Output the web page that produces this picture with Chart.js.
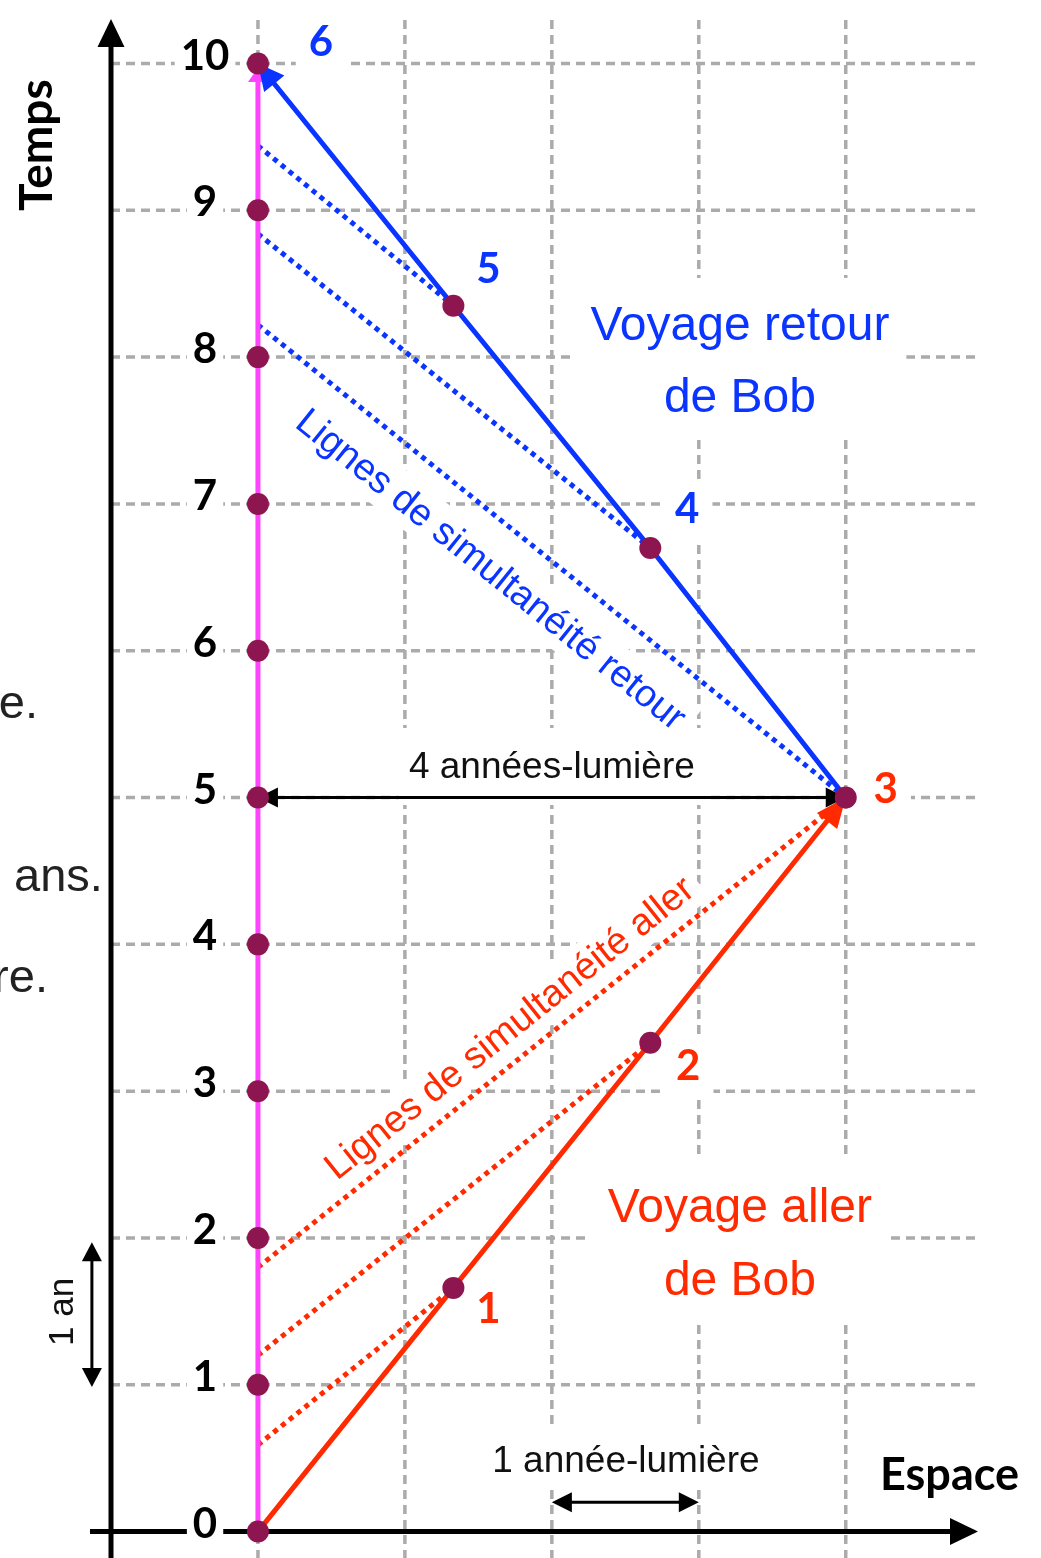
<!DOCTYPE html>
<html><head><meta charset="utf-8">
<script src="https://cdn.jsdelivr.net/npm/chart.js"></script>
<style>html,body{margin:0;padding:0;background:#fff;overflow:hidden}#wrap{width:1041px;height:1558px;position:relative}canvas{display:block}</style>
</head><body><div id="wrap"><canvas id="c" width="1041" height="1558"></canvas></div>
<script>
// ---------------- data ----------------
const spaceTicks = [0, 1, 2, 3, 4];                 // années-lumière
const timeTicks  = [0, 1, 2, 3, 4, 5, 6, 7, 8, 9, 10]; // ans
const timeTickLabels = ['0','1','2','3','4','5','6','7','8','9','10'];
const aliceX = [0, 0, 0, 0, 0, 0, 0, 0, 0, 0, 0];
const aliceT = [0, 1, 2, 3, 4, 5, 6, 7, 8, 9, 10];
const aliceLineT = [0, 9.97];
const bobX = [0, 1.33, 2.67, 4, 2.67, 1.33, 0];
const bobT = [0, 1.66, 3.33, 5, 6.70, 8.35, 10];
const bobLabels = ['', '1', '2', '3', '4', '5', '6'];
const allerIdx = [1, 2, 3];          // Bob points linked by lines of simultaneity (aller)
const allerSimT = [0.59, 1.20, 1.80]; // where they meet Alice's world line
const retourIdx = [3, 4, 5];
const retourSimT = [8.22, 8.84, 9.44];

// ---------------- style ----------------
const BLUE = '#0A34FF', RED = '#FF2A00', MAG = '#FF44FF', DOT = '#8E1650', GRID = '#ABABAB', INK = '#111';
const SANS = '"Liberation Sans", Arial, sans-serif';
const BOLD = 'bold 42px Lato, "Open Sans", sans-serif';

const pt = (x, y) => ({x, y});
const dots = aliceX.map((x, i) => pt(x, aliceT[i])).concat(bobX.slice(1, 6).map((x, i) => pt(x, bobT[i + 1])));
const aliceLine = aliceLineT.map(t => pt(0, t));
const allerPath = bobX.slice(0, 4).map((x, i) => pt(x, bobT[i]));
const retourPath = bobX.slice(3).map((x, i) => pt(x, bobT[i + 3]));

const simSets = [];
allerIdx.forEach((k, i) => simSets.push({data: [pt(0, allerSimT[i]), pt(bobX[k], bobT[k])], color: RED}));
retourIdx.forEach((k, i) => simSets.push({data: [pt(0, retourSimT[i]), pt(bobX[k], bobT[k])], color: BLUE}));

// ---------------- annotations (layout) ----------------
const labelOffsets = [null, [35, 35], [38, 37], [40, 5], [37, -25], [35, -23], [63, -8]];

function arrowHead(ctx, fx, fy, tx, ty, len, w, color) {
  const a = Math.atan2(ty - fy, tx - fx);
  ctx.save(); ctx.translate(tx, ty); ctx.rotate(a);
  ctx.beginPath(); ctx.moveTo(0, 0); ctx.lineTo(-len, w / 2); ctx.lineTo(-len, -w / 2); ctx.closePath();
  ctx.fillStyle = color; ctx.fill(); ctx.restore();
}
function dblArrow(ctx, x1, y1, x2, y2, len, w, lw, color) {
  const d = Math.hypot(x2 - x1, y2 - y1), ux = (x2 - x1) / d, uy = (y2 - y1) / d;
  ctx.save(); ctx.strokeStyle = color; ctx.lineWidth = lw;
  ctx.beginPath(); ctx.moveTo(x1 + ux * (len - 2), y1 + uy * (len - 2)); ctx.lineTo(x2 - ux * (len - 2), y2 - uy * (len - 2)); ctx.stroke();
  ctx.restore();
  arrowHead(ctx, x2, y2, x1, y1, len, w, color);
  arrowHead(ctx, x1, y1, x2, y2, len, w, color);
}
function whiteBox(ctx, cx, cy, ang, x0, y0, x1, y1) {
  ctx.save(); ctx.translate(cx, cy); ctx.rotate(ang);
  ctx.fillStyle = '#fff'; ctx.fillRect(x0, y0, x1 - x0, y1 - y0); ctx.restore();
}
function text(ctx, s, x, y, font, color, align, ang) {
  ctx.save(); ctx.translate(x, y); if (ang) ctx.rotate(ang);
  ctx.font = font; ctx.fillStyle = color; ctx.textAlign = align || 'center'; ctx.textBaseline = 'alphabetic';
  ctx.fillText(s, 0, 0); ctx.restore();
}

const deco = {
  id: 'deco',
  beforeDatasetsDraw(chart) {
    const ctx = chart.ctx, X = v => chart.scales.x.getPixelForValue(v), Y = v => chart.scales.y.getPixelForValue(v);
    const ca = chart.chartArea;
    // grid
    ctx.save(); ctx.strokeStyle = GRID; ctx.lineWidth = 3.5; ctx.setLineDash([9, 6]);
    spaceTicks.forEach(v => { ctx.beginPath(); ctx.moveTo(X(v), ca.top + 2); ctx.lineTo(X(v), ca.bottom); ctx.stroke(); });
    timeTicks.forEach(v => { ctx.beginPath(); ctx.moveTo(ca.left, Y(v)); ctx.lineTo(ca.right - 2, Y(v)); ctx.stroke(); });
    ctx.restore();
    // axes
    ctx.save(); ctx.strokeStyle = '#000'; ctx.lineWidth = 5;
    ctx.beginPath(); ctx.moveTo(X(-1), Y(-0.18)); ctx.lineTo(X(-1), ca.top + 20); ctx.stroke();
    ctx.beginPath(); ctx.moveTo(X(-1.143), Y(0)); ctx.lineTo(ca.right - 20, Y(0)); ctx.stroke();
    ctx.restore();
    arrowHead(ctx, X(-1), Y(0), X(-1), ca.top + 1, 28, 27, '#000');
    arrowHead(ctx, X(0), Y(0), ca.right, Y(0), 28, 27, '#000');
    // white boxes behind texts
    ctx.save();
    ctx.font = BOLD;
    timeTicks.forEach((v, i) => {
      const w = ctx.measureText(timeTickLabels[i]).width;
      whiteBox(ctx, X(-0.36), Y(v) + 6, 0, -w / 2 - 6, -36, w / 2 + 6, 6);
    });
    bobLabels.forEach((s, k) => {
      if (!s) return;
      const o = labelOffsets[k], w = ctx.measureText(s).width;
      whiteBox(ctx, X(bobX[k]) + o[0], Y(bobT[k]) + o[1], 0, -w / 2 - 13, -44, w / 2 + 13, 16);
    });
    ctx.font = '48px ' + SANS;
    [[3.28, 8.117, 'Voyage retour', 'de Bob'], [3.28, 2.109, 'Voyage aller', 'de Bob']].forEach(a => {
      const w = Math.max(ctx.measureText(a[2]).width, ctx.measureText(a[3]).width);
      whiteBox(ctx, X(a[0]), Y(a[1]), 0, -w / 2 - 17, -62, w / 2 + 17, 97);
    });
    ctx.font = '37px ' + SANS;
    let w = ctx.measureText('4 années-lumière').width;
    whiteBox(ctx, X(2), Y(5.133), 0, -w / 2 - 10, -50, w / 2 + 10, 27);
    w = ctx.measureText('1 année-lumière').width;
    whiteBox(ctx, X(2.504), Y(0.406), 0, -w / 2 - 8, -47, w / 2 + 8, 16);
    ctx.font = '38px ' + SANS;
    const aR = Math.atan2(Y(retourSimT[0]) - Y(bobT[3]), X(0) - X(bobX[3])) + Math.PI;
    const aA = Math.atan2(Y(bobT[3]) - Y(allerSimT[2]), X(bobX[3]) - X(0));
    w = ctx.measureText('Lignes de simultanéité retour').width;
    whiteBox(ctx, X(1.535), Y(6.49), aR, -w / 2 - 8, -36, w / 2 + 8, 12);
    w = ctx.measureText('Lignes de simultanéité aller').width;
    whiteBox(ctx, X(1.762), Y(3.368), aA, -w / 2 - 8, -36, w / 2 + 8, 12);
    ctx.restore();
    // measurement arrows
    dblArrow(ctx, X(0), Y(5), X(4), Y(5), 20, 20, 3, '#000');
    dblArrow(ctx, X(2), Y(0.2), X(3), Y(0.2), 20, 20, 3, '#000');
    dblArrow(ctx, X(-1.13), Y(1.97), X(-1.13), Y(0.985), 19, 20, 3, '#000');
  },
  afterDatasetDraw(chart, args) {
    const ds = chart.data.datasets[args.index];
    if (!ds.arrow) return;
    const ctx = chart.ctx, X = v => chart.scales.x.getPixelForValue(v), Y = v => chart.scales.y.getPixelForValue(v);
    const n = ds.data.length, a = ds.data[n - 2], b = ds.data[n - 1];
    arrowHead(ctx, X(a.x), Y(a.y), X(b.x), Y(b.y), ds.arrow[0], ds.arrow[1], ds.borderColor);
  },
  afterDatasetsDraw(chart) {
    const ctx = chart.ctx, X = v => chart.scales.x.getPixelForValue(v), Y = v => chart.scales.y.getPixelForValue(v);
    // tick labels
    timeTicks.forEach((v, i) => text(ctx, timeTickLabels[i], X(-0.36), Y(v) + 6, BOLD, '#000'));
    // point labels
    bobLabels.forEach((s, k) => {
      if (!s) return;
      const o = labelOffsets[k];
      text(ctx, s, X(bobX[k]) + o[0], Y(bobT[k]) + o[1], BOLD, k <= 3 ? RED : BLUE);
    });
    // axis titles
    text(ctx, 'Temps', X(-1.402), Y(9.444), 'bold 46px Lato, sans-serif', '#000', 'center', -Math.PI / 2);
    text(ctx, 'Espace', X(4.233), Y(0.283), 'bold 45px Lato, sans-serif', '#000', 'left');
    // annotations
    text(ctx, 'Voyage retour', X(3.28), Y(8.117), '48px ' + SANS, BLUE);
    text(ctx, 'de Bob', X(3.28), Y(8.117) + 72, '48px ' + SANS, BLUE);
    text(ctx, 'Voyage aller', X(3.28), Y(2.109), '48px ' + SANS, RED);
    text(ctx, 'de Bob', X(3.28), Y(2.109) + 73, '48px ' + SANS, RED);
    text(ctx, '4 années-lumière', X(2), Y(5.133), '37px ' + SANS, INK);
    text(ctx, '1 année-lumière', X(2.504), Y(0.406), '37px ' + SANS, INK);
    text(ctx, '1 an', X(-1.26), Y(1.496), '35px ' + SANS, INK, 'center', -Math.PI / 2);
    const aR = Math.atan2(Y(retourSimT[0]) - Y(bobT[3]), X(0) - X(bobX[3])) + Math.PI;
    const aA = Math.atan2(Y(bobT[3]) - Y(allerSimT[2]), X(bobX[3]) - X(0));
    text(ctx, 'Lignes de simultanéité retour', X(1.535), Y(6.49), '38px ' + SANS, BLUE, 'center', aR);
    text(ctx, 'Lignes de simultanéité aller', X(1.762), Y(3.368), '38px ' + SANS, RED, 'center', aA);
    // clipped slide text at the left edge
    text(ctx, 'e.', X(-1.497), Y(5.54), '47px ' + SANS, '#222', 'right');
    text(ctx, 'ans.', X(-1.055), Y(4.363), '47px ' + SANS, '#222', 'right');
    text(ctx, 're.', X(-1.429), Y(3.675), '47px ' + SANS, '#222', 'right');
  }
};

const datasets = [
  {label: 'événements', data: dots, showLine: false, pointRadius: 11, pointHoverRadius: 11, pointBackgroundColor: DOT, pointBorderWidth: 0, order: 0},
  {label: 'Alice', data: aliceLine, showLine: true, borderColor: MAG, borderWidth: 5, pointRadius: 0, order: 3, arrow: [14, 20]},
  {label: 'aller', data: allerPath, showLine: true, borderColor: RED, borderWidth: 5, pointRadius: 0, order: 2, arrow: [30, 26]},
  {label: 'retour', data: retourPath, showLine: true, borderColor: BLUE, borderWidth: 5, pointRadius: 0, order: 2, arrow: [26, 26]}
].concat(simSets.map(s => ({label: 'sim', data: s.data, showLine: true, borderColor: s.color, borderWidth: 5,
  borderDash: [5, 5], borderCapStyle: 'butt', pointRadius: 0, order: 4})));

new Chart(document.getElementById('c'), {
  type: 'scatter',
  data: {datasets},
  options: {
    responsive: false, animation: false, devicePixelRatio: 1, events: [],
    layout: {autoPadding: false, padding: {left: 111, right: 63, top: 18, bottom: 0}},
    plugins: {legend: {display: false}, tooltip: {enabled: false}},
    scales: {
      x: {type: 'linear', min: -1, max: 4.9, display: false},
      y: {type: 'linear', min: -0.18, max: 10.31, display: false}
    }
  },
  plugins: [deco]
});
</script></body></html>
